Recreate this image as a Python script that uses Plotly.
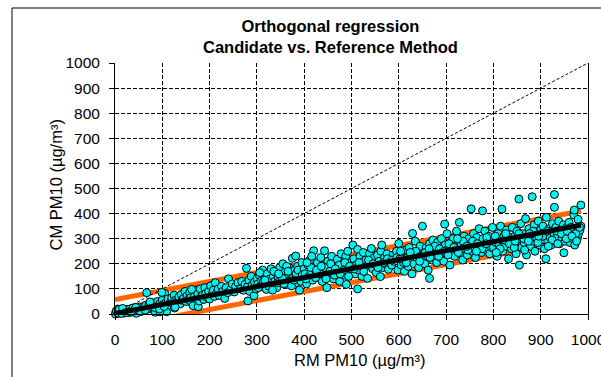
import plotly.graph_objects as go

# ---- data ----
pts_0_200 = [(2,9),(3,2),(5,15),(4,5),(8,3),(10,12),(12,6),(6,20),(15,8),(18,14),(20,4),(22,10),(25,18),(28,12),(30,6),(32,20),(35,14),(38,24),(40,10),(42,18),(45,3),(48,22),(50,15),(52,28),(55,20),(58,12),(60,30),(62,24),(65,35),(67,85),(70,20),(72,40),(75,28),(78,45),(80,32),(82,18),(85,7),(88,38),(90,50),(92,30),(95,42),(98,25),(100,55),(102,38),(105,82),(108,45),(109,9),(112,60),(115,35),(118,50),(120,65),(122,42),(125,75),(126,24),(128,55),(130,48),(135,68),(138,40),(140,78),(142,55),(145,62),(148,90),(150,50),(152,72),(155,58),(158,85),(160,65),(162,45),(165,33),(168,70),(170,95),(172,60),(175,80),(176,29),(178,52),(180,100),(182,68),(185,75),(188,58),(190,105),(192,82),(195,66),(198,90),(99,86),(162,98),(95,9),(127,27),(1,0),(3,12),(6,4),(9,18),(14,2),(16,22),(24,6),(34,8),(44,26),(54,10),(64,16),(74,48),(84,26),(94,20),(104,30)]
pts_200_400 = [(200,60),(202,112),(205,78),(208,95),(210,70),(212,125),(215,85),(218,100),(220,74),(225,110),(228,90),(232,62),(235,105),(238,85),(240,140),(245,98),(248,120),(252,88),(255,110),(260,125),(265,100),(268,130),(272,95),(275,118),(278,182),(280,108),(281,52),(283,135),(285,90),(288,150),(290,115),(294,73),(295,128),(298,100),(300,140),(302,120),(305,155),(308,108),(310,132),(312,175),(315,118),(318,145),(320,98),(322,160),(325,125),(328,140),(330,180),(332,112),(335,150),(338,130),(340,165),(342,105),(345,145),(348,185),(350,128),(352,155),(355,200),(358,138),(360,170),(362,118),(365,150),(368,185),(370,132),(372,160),(375,222),(377,145),(380,175),(382,231),(384,125),(386,190),(388,150),(390,95),(392,168),(395,205),(398,140),(303,105),(314,128),(326,110),(336,170),(344,125),(354,142),(363,190),(373,112),(383,160),(393,130),(306,165),(317,135),(333,95),(346,160),(357,120),(366,170),(378,135),(387,175),(396,155)]
pts_400_600 = [(400,180),(402,160),(405,120),(408,195),(410,150),(412,215),(415,170),(418,135),(420,252),(422,188),(425,160),(428,205),(430,145),(432,178),(435,225),(438,130),(440,195),(443,252),(445,165),(448,105),(450,210),(452,180),(455,150),(458,230),(460,175),(462,140),(465,200),(468,160),(470,218),(472,185),(475,130),(478,240),(480,170),(482,200),(485,155),(488,230),(489,118),(490,185),(492,250),(495,165),(498,205),(500,180),(503,275),(505,220),(508,160),(510,195),(513,257),(513,100),(515,175),(518,230),(520,205),(522,150),(525,245),(528,185),(530,215),(534,142),(535,195),(538,240),(540,205),(542,261),(545,180),(548,225),(550,200),(552,165),(555,235),(558,210),(561,149),(562,250),(564,275),(566,185),(570,225),(572,200),(575,240),(578,178),(580,215),(585,195),(588,235),(590,210),(595,250),(598,175),(404,140),(414,185),(424,145),(434,160),(444,185),(454,170),(464,155),(474,195),(484,175),(494,150),(406,205),(416,230),(426,175),(436,190),(446,140),(456,200),(466,180),(476,160),(486,205),(496,190),(506,180),(516,205),(526,170),(536,215),(546,200),(556,185),(568,205),(576,220),(586,215),(596,225)]
pts_600_800 = [(600,281),(602,220),(605,195),(608,240),(610,205),(612,170),(615,255),(618,225),(620,190),(622,265),(625,215),(628,160),(629,321),(630,240),(632,200),(635,290),(638,225),(640,250),(642,185),(645,270),(648,215),(650,350),(652,240),(655,200),(658,265),(660,230),(662,175),(665,142),(665,280),(668,250),(670,215),(672,295),(675,235),(678,260),(680,205),(682,285),(685,245),(688,225),(690,300),(692,265),(695,210),(697,358),(698,275),(700,240),(702,320),(705,260),(708,195),(710,285),(712,250),(715,300),(718,230),(720,270),(722,330),(725,255),(728,365),(728,290),(730,240),(732,275),(735,215),(738,310),(740,260),(742,285),(745,235),(748,300),(750,270),(753,419),(755,250),(758,320),(760,285),(762,225),(765,305),(768,265),(770,340),(772,280),(775,245),(777,411),(778,300),(780,270),(782,330),(785,255),(788,290),(790,310),(792,240),(795,280),(798,345),(606,220),(616,205),(626,235),(636,250),(646,230),(656,245),(666,225),(676,270),(686,260),(696,250),(706,280),(716,265),(726,245),(736,290),(746,255),(756,290),(766,280),(776,260),(786,305),(796,265),(604,250),(624,245),(644,210),(664,260),(684,230),(704,235),(724,300),(744,270),(764,250),(784,280)]
pts_800_1000 = [(800,265),(802,300),(805,285),(808,230),(810,320),(812,275),(815,350),(818,418),(818,295),(820,250),(822,310),(825,270),(828,335),(830,290),(832,220),(835,305),(838,260),(840,345),(842,285),(845,310),(848,240),(850,330),(852,275),(854,458),(855,195),(856,300),(858,360),(860,265),(862,320),(865,285),(868,380),(870,235),(872,305),(875,340),(878,270),(880,310),(882,467),(884,290),(886,355),(888,250),(890,325),(892,300),(895,370),(898,275),(900,335),(902,295),(905,350),(908,260),(910,315),(911,220),(912,385),(915,290),(918,340),(920,305),(922,275),(925,360),(928,320),(929,476),(929,425),(930,290),(932,345),(935,310),(938,370),(940,280),(942,335),(945,300),(948,355),(949,244),(950,320),(952,290),(955,345),(958,310),(960,365),(962,285),(965,330),(968,300),(970,395),(971,414),(972,275),(975,340),(978,305),(979,377),(980,320),(983,334),(985,434),(985,350),(804,310),(814,260),(824,295),(834,280),(844,265),(854,320),(864,300),(874,290),(884,330),(894,285),(904,310),(914,330),(924,295),(934,330),(944,320),(954,300),(964,345),(974,320),(806,245),(826,320),(846,290),(866,255),(876,320),(896,310),(916,270),(936,280),(956,330),(966,310),(976,290),(982,345)]

# regression results
reg_slope = 0.358
reg_intercept = 2.0
band_halfwidth = 56.0
reg_x = [0, 985]
ticks = list(range(0, 1001, 100))
tick_labels = [str(t) for t in ticks]

all_pts = pts_0_200 + pts_200_400 + pts_400_600 + pts_600_800 + pts_800_1000
rm_pm10 = [p[0] for p in all_pts]
cm_pm10 = [p[1] for p in all_pts]

reg_y = [reg_slope * x + reg_intercept for x in reg_x]
upper_y = [y + band_halfwidth for y in reg_y]
lower_y = [y - band_halfwidth for y in reg_y]

FONT = "Liberation Sans, Arial, sans-serif"

fig = go.Figure()
fig.add_trace(go.Scatter(x=reg_x, y=upper_y, mode="lines",
                         line=dict(color="#FF6600", width=5), hoverinfo="skip"))
fig.add_trace(go.Scatter(x=reg_x, y=lower_y, mode="lines",
                         line=dict(color="#FF6600", width=5), hoverinfo="skip"))
fig.add_trace(go.Scatter(x=[0, 1000], y=[0, 1000], mode="lines",
                         line=dict(color="black", width=1, dash="3px,2px"), hoverinfo="skip"))
fig.add_trace(go.Scatter(x=rm_pm10, y=cm_pm10, mode="markers",
                         marker=dict(size=8, color="#00F2F2",
                                     line=dict(color="black", width=1)),
                         cliponaxis=False))
fig.add_trace(go.Scatter(x=reg_x, y=reg_y, mode="lines",
                         line=dict(color="black", width=5), hoverinfo="skip"))

axis_common = dict(
    range=[0, 1000], tickvals=ticks, ticktext=tick_labels,
    showgrid=True, gridcolor="black", gridwidth=1, griddash="4px,2px",
    showline=True, linecolor="black", linewidth=1,
    ticks="outside", ticklen=5, tickcolor="black", tickwidth=1,
    zeroline=False, tickfont=dict(family=FONT, size=15.5, color="black"),
    ticklabeloverflow="allow", automargin=False,
)

fig.update_layout(
    width=601, height=377,
    margin=dict(l=115, r=13, t=63, b=63),
    paper_bgcolor="white", plot_bgcolor="white",
    showlegend=False,
    xaxis=dict(**axis_common, mirror=False, ticklabelstandoff=6),
    yaxis=dict(**axis_common, mirror=True, ticklabelstandoff=6),
    annotations=[
        dict(text="<b>Orthogonal regression<br>Candidate vs. Reference Method</b>",
             xref="paper", yref="paper", x=(330 - 115) / 473, y=(314 - 36) / 251,
             xanchor="center", yanchor="middle", showarrow=False,
             font=dict(family=FONT, size=16.5, color="black")),
        dict(text="RM PM10 (µg/m³)", xref="paper", yref="paper",
             x=(359 - 115) / 473, y=(314 - 360) / 251,
             xanchor="center", yanchor="middle", showarrow=False,
             font=dict(family=FONT, size=16.5, color="black")),
        dict(text="CM PM10 (µg/m³)", xref="paper", yref="paper",
             x=(55.5 - 115) / 473, y=(314 - 185) / 251, textangle=-90,
             xanchor="center", yanchor="middle", showarrow=False,
             font=dict(family=FONT, size=16.5, color="black")),
    ],
    shapes=[
        dict(type="rect", xref="paper", yref="paper",
             x0=(12 - 115) / 473, x1=1.3, y0=-0.4, y1=(314 - 8) / 251,
             line=dict(color="black", width=1), fillcolor="rgba(0,0,0,0)", layer="below"),
    ],
)

fig.write_html("out.html")
